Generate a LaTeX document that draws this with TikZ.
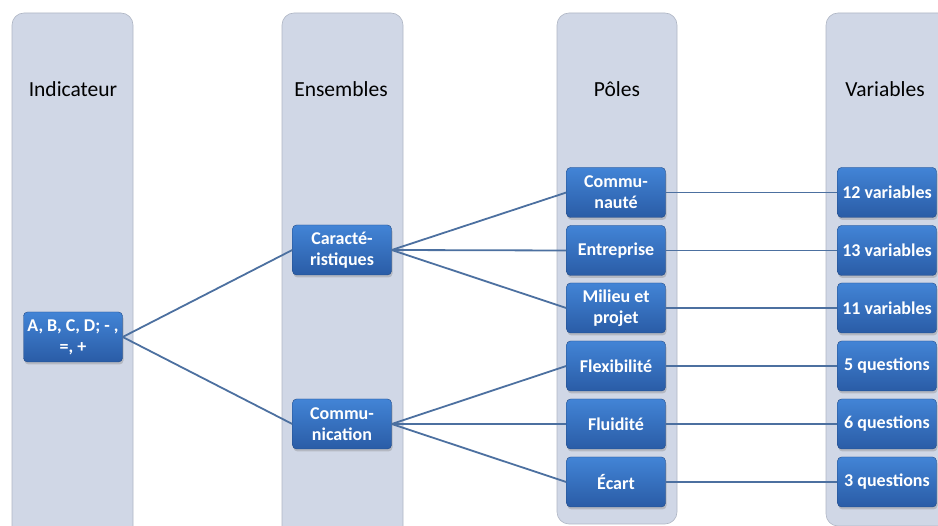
\documentclass[tikz,border=0pt]{standalone}
\usepackage{fontspec}
\setmainfont{Carlito}
\usetikzlibrary{shadows}
\definecolor{colfill}{RGB}{208,215,230}
\definecolor{coledge}{RGB}{175,182,196}
\definecolor{boxtop}{RGB}{66,132,214}
\definecolor{boxbot}{RGB}{42,92,166}
\definecolor{linkc}{RGB}{76,112,160}
\tikzset{
  column/.style={fill=colfill, draw=coledge, line width=0.6pt, rounded corners=12pt},
  header/.style={font=\fontsize{21.5}{24}\selectfont, text=black},
  bluebox/.style={rounded corners=4pt, minimum width=99pt, minimum height=50pt,
    top color=boxtop, bottom color=boxbot, draw=boxbot!80!black, line width=0.4pt,
    text=white, font=\bfseries\fontsize{18}{21}\selectfont, align=center, inner sep=0.5pt,
    drop shadow={shadow xshift=1pt, shadow yshift=-2.5pt, opacity=0.35}},
  link/.style={draw=linkc, line width=1.8pt}
}
\begin{document}
\begin{tikzpicture}[x=1pt,y=-1pt]
\useasboundingbox (0,0) rectangle (938,526);
% columns
\draw[column] (12,13) rectangle (133,540);
\draw[column] (282,13) rectangle (403,540);
\draw[column] (557,13) rectangle (677,524);
\draw[column] (826,13) rectangle (960,526);
% headers
\node[header] (h1) at (73,89) {Indicateur};
\node[header] (h2) at (341,89) {Ensembles};
\node[header] (h3) at (617,89) {Pôles};
\node[header] (h4) at (885,89) {Variables};
% boxes
\node[bluebox] (ind) at (73,337) {A, B, C, D; - ,\\ =, +};
\node[bluebox] (car) at (342,250) {Caracté-\\ristiques};
\node[bluebox] (com) at (342,424) {Commu-\\nication};
\node[bluebox] (p1) at (616,192.5) {Commu-\\nauté};
\node[bluebox] (p2) at (616,250.5) {Entreprise};
\node[bluebox] (p3) at (616,308) {Milieu et\\projet};
\node[bluebox] (p4) at (616,366) {Flexibilité};
\node[bluebox] (p5) at (616,424) {Fluidité};
\node[bluebox] (p6) at (616,482) {Écart};
\node[bluebox] (v1) at (887,192.5) {12 variables};
\node[bluebox] (v2) at (887,250.5) {13 variables};
\node[bluebox] (v3) at (887,308) {11 variables};
\node[bluebox] (v4) at (887,366) {5 questions};
\node[bluebox] (v5) at (887,424) {6 questions};
\node[bluebox] (v6) at (887,482) {3 questions};
% links
\draw[link] (ind.east) -- (car.west);
\draw[link] (ind.east) -- (com.west);
\draw[link] (car.east) -- (p1.west);
\draw[link] (car.east) -- (p2.west);
\draw[link] (car.east) -- (p3.west);
\draw[link] (com.east) -- (p4.west);
\draw[link] (com.east) -- (p5.west);
\draw[link] (com.east) -- (p6.west);
\draw[link] (p1.east) -- (v1.west);
\draw[link] (p2.east) -- (v2.west);
\draw[link] (p3.east) -- (v3.west);
\draw[link] (p4.east) -- (v4.west);
\draw[link] (p5.east) -- (v5.west);
\draw[link] (p6.east) -- (v6.west);
\end{tikzpicture}
\end{document}
